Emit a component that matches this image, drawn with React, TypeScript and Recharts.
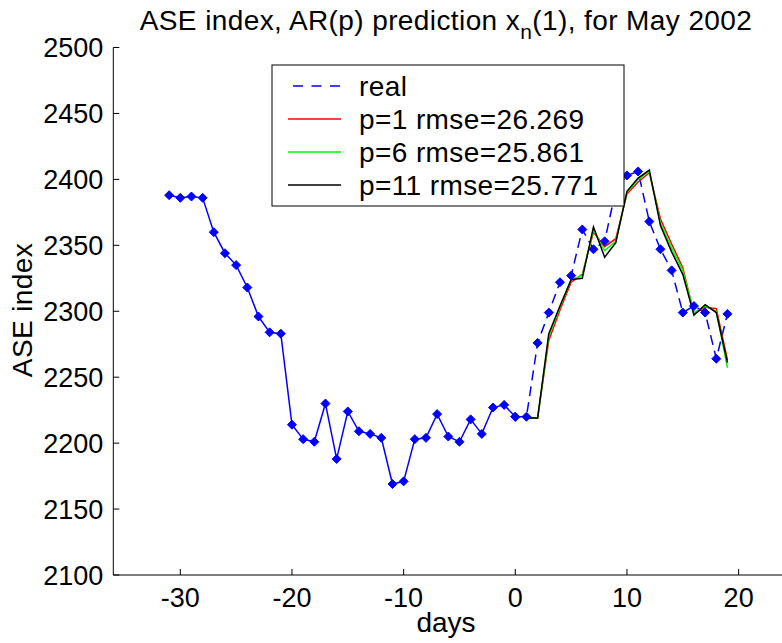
import { LineChart, Line, XAxis, YAxis } from 'recharts'

const HIST_DAYS = [-31, -30, -29, -28, -27, -26, -25, -24, -23, -22, -21, -20, -19, -18, -17, -16, -15, -14, -13, -12, -11, -10, -9, -8, -7, -6, -5, -4, -3, -2, -1, 0]
const HIST_VALUES = [2388, 2386, 2387, 2386, 2360, 2344, 2335, 2318, 2296, 2284, 2283, 2214, 2203, 2201, 2230, 2188, 2224, 2209, 2207, 2204, 2169, 2171, 2203, 2204, 2222, 2205, 2201, 2218, 2207, 2227, 2229, 2220]

const REAL_DAYS = [0, 1, 2, 3, 4, 5, 6, 7, 8, 9, 10, 11, 12, 13, 14, 15, 16, 17, 18, 19]
const REAL_VALUES = [2220, 2220, 2276, 2299, 2322, 2327, 2362, 2347, 2353, 2392, 2403, 2406, 2368, 2347, 2331, 2299, 2304, 2299, 2264, 2298]

const PRED_DAYS = [1, 2, 3, 4, 5, 6, 7, 8, 9, 10, 11, 12, 13, 14, 15, 16, 17, 18, 19]
const P1_VALUES = [2219, 2219, 2278, 2301, 2322, 2328, 2360, 2349, 2355, 2389, 2398, 2405, 2370, 2351, 2333, 2298, 2303, 2302, 2263]
const P6_VALUES = [2219, 2219, 2281, 2303, 2324, 2327, 2362, 2346, 2353, 2390, 2400, 2406, 2367, 2348, 2331, 2299, 2304, 2300, 2257]
const P11_VALUES = [2219, 2219, 2283, 2304, 2324, 2325, 2364, 2341, 2352, 2391, 2401, 2407, 2365, 2345, 2328, 2297, 2305, 2299, 2261]

const X_TICKS = [-30, -20, -10, 0, 10, 20]
const Y_TICKS = [2100, 2150, 2200, 2250, 2300, 2350, 2400, 2450, 2500]

const TITLE = 'ASE index, AR(p) prediction x'
const LEGEND_ITEMS = [
  { label: 'real', color: '#0000ff', dash: '10 8.5' },
  { label: 'p=1 rmse=26.269', color: '#ff0000', dash: undefined },
  { label: 'p=6 rmse=25.861', color: '#00ff00', dash: undefined },
  { label: 'p=11 rmse=25.771', color: '#000000', dash: undefined },
]

type Row = { day: number; hist?: number; real?: number; p1?: number; p6?: number; p11?: number }

function buildRows(): Row[] {
  const map = new Map<number, Row>()
  const put = (days: number[], vals: number[], key: keyof Row) => {
    days.forEach((d, i) => {
      const row = map.get(d) || { day: d }
      ;(row as any)[key] = vals[i]
      map.set(d, row)
    })
  }
  put(HIST_DAYS, HIST_VALUES, 'hist')
  put(REAL_DAYS, REAL_VALUES, 'real')
  put(PRED_DAYS, P1_VALUES, 'p1')
  put(PRED_DAYS, P6_VALUES, 'p6')
  put(PRED_DAYS, P11_VALUES, 'p11')
  return Array.from(map.values()).sort((a, b) => a.day - b.day)
}

const FONT = '"Liberation Sans", Arial, sans-serif'
const TICK = { fontSize: 27, fill: '#000', fontFamily: FONT }
const BLUE = '#0000ff'

function StarDot(props: any) {
  const { cx, cy, index, value } = props
  if (cx == null || cy == null || value == null) return <g key={`n-${index}`} />
  const r = 4.5
  return (
    <g key={`s-${index}`}>
      <polygon
        points={`${cx},${cy - r} ${cx + r},${cy} ${cx},${cy + r} ${cx - r},${cy}`}
        fill={BLUE}
        stroke={BLUE}
        strokeWidth={1}
      />
    </g>
  )
}

export default function App() {
  const rows = buildRows()

  return (
    <div style={{ position: 'absolute', left: 0, top: 0, width: 782, height: 643, overflow: 'hidden', background: '#fff' }}>
      <LineChart width={800} height={643} data={rows} margin={{ top: 47.5, right: 0, bottom: 0, left: 0 }}>
        <XAxis
          xAxisId="b"
          dataKey="day"
          type="number"
          domain={[-36, 24]}
          ticks={X_TICKS}
          allowDataOverflow
          height={68}
          tickSize={-6}
          tickMargin={19}
          tick={TICK}
          stroke="#000"
        />
        <XAxis
          xAxisId="t"
          orientation="top"
          dataKey="day"
          type="number"
          domain={[-36, 24]}
          ticks={X_TICKS}
          allowDataOverflow
          height={0}
          tickSize={-6}
          tick={false}
          stroke="#000"
        />
        <YAxis
          yAxisId="l"
          type="number"
          domain={[2100, 2500]}
          ticks={Y_TICKS}
          allowDataOverflow
          width={113.3}
          tickSize={-6}
          tickMargin={16}
          tick={TICK}
          stroke="#000"
        />
        <YAxis
          yAxisId="r"
          orientation="right"
          type="number"
          domain={[2100, 2500]}
          ticks={Y_TICKS}
          allowDataOverflow
          width={16.7}
          tickSize={-6}
          tick={false}
          stroke="#000"
        />
        <Line xAxisId="b" yAxisId="l" dataKey="hist" stroke={BLUE} strokeWidth={1.5} dot={StarDot} isAnimationActive={false} />
        <Line xAxisId="b" yAxisId="l" dataKey="real" stroke={BLUE} strokeWidth={1.5} strokeDasharray="10 6" dot={StarDot} isAnimationActive={false} />
        <Line xAxisId="b" yAxisId="l" dataKey="p1" stroke="#ff0000" strokeWidth={1.5} dot={false} isAnimationActive={false} />
        <Line xAxisId="b" yAxisId="l" dataKey="p6" stroke="#00ff00" strokeWidth={1.5} dot={false} isAnimationActive={false} />
        <Line xAxisId="b" yAxisId="l" dataKey="p11" stroke="#000000" strokeWidth={1.5} dot={false} isAnimationActive={false} />
      </LineChart>

      <svg width={782} height={643} style={{ position: 'absolute', left: 0, top: 0, pointerEvents: 'none' }} fontFamily={FONT} fontSize={28} letterSpacing={0.4}>
        <text x={446} y={30} textAnchor="middle">
          {TITLE}
          <tspan fontSize={21} dy={9}>n</tspan>
          <tspan dy={-9}>(1), for May 2002</tspan>
        </text>
        <text x={446} y={632} textAnchor="middle" letterSpacing={0}>days</text>
        <text transform="translate(32,310) rotate(-90)" textAnchor="middle">ASE index</text>

        <rect x={272} y={65} width={352} height={141} fill="#fff" stroke="#000" strokeWidth={1} />
        {LEGEND_ITEMS.map((item, i) => {
          const cy = 86 + i * 33
          return (
            <g key={item.label}>
              <line x1={item.dash ? 293 : 288} x2={341} y1={cy} y2={cy} stroke={item.color} strokeWidth={1.5} strokeDasharray={item.dash} />
              <text x={359} y={cy + 9.5}>{item.label}</text>
            </g>
          )
        })}
      </svg>
    </div>
  )
}
